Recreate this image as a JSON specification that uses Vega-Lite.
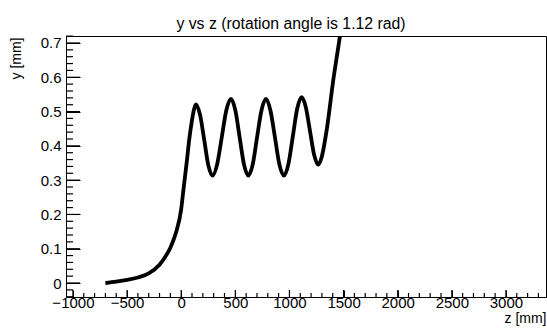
{
  "$schema": "https://vega.github.io/schema/vega-lite/v6.json",
  "width": 480,
  "height": 261,
  "autosize": "none",
  "padding": {"left": 66, "top": 36, "right": 1, "bottom": 37},
  "background": "white",
  "title": {
    "text": "y vs z (rotation angle is 1.12 rad)",
    "font": "Liberation Sans",
    "fontSize": 15.8,
    "fontWeight": "normal",
    "color": "black",
    "anchor": "middle",
    "frame": "group",
    "offset": 14,
    "dy": 11,
    "dx": -15
  },
  "config": {
    "view": {"stroke": "black", "strokeWidth": 1},
    "axis": {
      "zindex": 1,
      "domainColor": "black",
      "domainWidth": 1,
      "tickColor": "black",
      "tickWidth": 1,
      "labelFont": "Liberation Sans",
      "labelFontSize": 15,
      "labelColor": "black",
      "titleFont": "Liberation Sans",
      "titleFontSize": 14,
      "titleFontWeight": "normal",
      "titleColor": "black",
      "grid": false,
      "labelOverlap": false,
      "labelFlush": false,
      "labelBound": false
    }
  },
  "datasets": {
    "curve": [
      {"z": -700, "y": 0.000},
      {"z": -600, "y": 0.004},
      {"z": -500, "y": 0.009},
      {"z": -400, "y": 0.016},
      {"z": -300, "y": 0.028},
      {"z": -200, "y": 0.053},
      {"z": -150, "y": 0.075},
      {"z": -100, "y": 0.103},
      {"z": -50, "y": 0.145},
      {"z": 0, "y": 0.215},
      {"z": 20, "y": 0.270},
      {"z": 50, "y": 0.349},
      {"z": 75, "y": 0.420},
      {"z": 100, "y": 0.475},
      {"z": 120, "y": 0.508},
      {"z": 136, "y": 0.521},
      {"z": 174, "y": 0.491},
      {"z": 213, "y": 0.417},
      {"z": 251, "y": 0.343},
      {"z": 290, "y": 0.313},
      {"z": 332, "y": 0.346},
      {"z": 375, "y": 0.425},
      {"z": 417, "y": 0.504},
      {"z": 460, "y": 0.537},
      {"z": 500, "y": 0.504},
      {"z": 540, "y": 0.425},
      {"z": 580, "y": 0.346},
      {"z": 620, "y": 0.313},
      {"z": 661, "y": 0.346},
      {"z": 701, "y": 0.425},
      {"z": 742, "y": 0.504},
      {"z": 783, "y": 0.537},
      {"z": 824, "y": 0.504},
      {"z": 866, "y": 0.425},
      {"z": 907, "y": 0.346},
      {"z": 949, "y": 0.313},
      {"z": 990, "y": 0.346},
      {"z": 1031, "y": 0.427},
      {"z": 1072, "y": 0.509},
      {"z": 1113, "y": 0.542},
      {"z": 1151, "y": 0.513},
      {"z": 1190, "y": 0.443},
      {"z": 1228, "y": 0.374},
      {"z": 1266, "y": 0.345},
      {"z": 1300, "y": 0.370},
      {"z": 1344, "y": 0.446},
      {"z": 1405, "y": 0.592},
      {"z": 1466, "y": 0.720},
      {"z": 1500, "y": 0.800}
    ],
    "xticks": [
      {"z": -1000, "major": true}, {"z": -900, "major": false}, {"z": -800, "major": false}, {"z": -700, "major": false}, {"z": -600, "major": false},
      {"z": -500, "major": true}, {"z": -400, "major": false}, {"z": -300, "major": false}, {"z": -200, "major": false}, {"z": -100, "major": false},
      {"z": 0, "major": true}, {"z": 100, "major": false}, {"z": 200, "major": false}, {"z": 300, "major": false}, {"z": 400, "major": false},
      {"z": 500, "major": true}, {"z": 600, "major": false}, {"z": 700, "major": false}, {"z": 800, "major": false}, {"z": 900, "major": false},
      {"z": 1000, "major": true}, {"z": 1100, "major": false}, {"z": 1200, "major": false}, {"z": 1300, "major": false}, {"z": 1400, "major": false},
      {"z": 1500, "major": true}, {"z": 1600, "major": false}, {"z": 1700, "major": false}, {"z": 1800, "major": false}, {"z": 1900, "major": false},
      {"z": 2000, "major": true}, {"z": 2100, "major": false}, {"z": 2200, "major": false}, {"z": 2300, "major": false}, {"z": 2400, "major": false},
      {"z": 2500, "major": true}, {"z": 2600, "major": false}, {"z": 2700, "major": false}, {"z": 2800, "major": false}, {"z": 2900, "major": false},
      {"z": 3000, "major": true}, {"z": 3100, "major": false}, {"z": 3200, "major": false}, {"z": 3300, "major": false}
    ],
    "yticks": [
      {"y": -0.04, "major": false}, {"y": -0.02, "major": false},
      {"y": 0, "major": true}, {"y": 0.02, "major": false}, {"y": 0.04, "major": false}, {"y": 0.06, "major": false}, {"y": 0.08, "major": false},
      {"y": 0.1, "major": true}, {"y": 0.12, "major": false}, {"y": 0.14, "major": false}, {"y": 0.16, "major": false}, {"y": 0.18, "major": false},
      {"y": 0.2, "major": true}, {"y": 0.22, "major": false}, {"y": 0.24, "major": false}, {"y": 0.26, "major": false}, {"y": 0.28, "major": false},
      {"y": 0.3, "major": true}, {"y": 0.32, "major": false}, {"y": 0.34, "major": false}, {"y": 0.36, "major": false}, {"y": 0.38, "major": false},
      {"y": 0.4, "major": true}, {"y": 0.42, "major": false}, {"y": 0.44, "major": false}, {"y": 0.46, "major": false}, {"y": 0.48, "major": false},
      {"y": 0.5, "major": true}, {"y": 0.52, "major": false}, {"y": 0.54, "major": false}, {"y": 0.56, "major": false}, {"y": 0.58, "major": false},
      {"y": 0.6, "major": true}, {"y": 0.62, "major": false}, {"y": 0.64, "major": false}, {"y": 0.66, "major": false}, {"y": 0.68, "major": false},
      {"y": 0.7, "major": true}, {"y": 0.72, "major": false}
    ]
  },
  "layer": [
    {
      "data": {"name": "curve"},
      "mark": {"type": "line", "color": "black", "strokeWidth": 3.8, "interpolate": "monotone", "clip": true},
      "encoding": {
        "x": {
          "field": "z",
          "type": "quantitative",
          "scale": {"domain": [-1064, 3370], "nice": false, "zero": false},
          "axis": {
            "orient": "top",
            "offset": -261,
            "title": "z [mm]",
            "titleAnchor": "end",
            "titleAlign": "right",
            "titleBaseline": "alphabetic",
            "titleAngle": 0,
            "titleX": 480,
            "titleY": 25,
            "values": [-1000,-500,0,500,1000,1500,2000,2500,3000],
            "format": "d",
            "tickSize": 7,
            "labelBaseline": "top",
            "labelAlign": "center",
            "labelPadding": -5.5
          }
        },
        "y": {
          "field": "y",
          "type": "quantitative",
          "scale": {"domain": [-0.0408, 0.7204], "nice": false, "zero": false},
          "axis": {
            "orient": "right",
            "offset": -480,
            "title": "y [mm]",
            "titleAnchor": "end",
            "titleAlign": "right",
            "titleAngle": -90,
            "titleBaseline": "alphabetic",
            "titleX": -46,
            "titleY": 1,
            "values": [0,0.1,0.2,0.3,0.4,0.5,0.6,0.7],
            "labelExpr": "datum.value === 0 ? '0' : format(datum.value, '.1f')",
            "tickSize": 14,
            "labelAlign": "right",
            "labelBaseline": "middle",
            "labelPadding": -19
          }
        }
      }
    },
    {
      "data": {"name": "xticks"},
      "transform": [{"filter": "datum.major"}],
      "mark": {"type": "rule", "color": "black", "strokeWidth": 1.2},
      "encoding": {
        "x": {"field": "z", "type": "quantitative", "axis": null},
        "y": {"datum": -0.0408, "type": "quantitative", "axis": null},
        "y2": {"datum": -0.0204}
      }
    },
    {
      "data": {"name": "xticks"},
      "transform": [{"filter": "!datum.major"}],
      "mark": {"type": "rule", "color": "black", "strokeWidth": 1.2},
      "encoding": {
        "x": {"field": "z", "type": "quantitative", "axis": null},
        "y": {"datum": -0.0408, "type": "quantitative", "axis": null},
        "y2": {"datum": -0.0291}
      }
    },
    {
      "data": {"name": "yticks"},
      "transform": [{"filter": "datum.major"}],
      "mark": {"type": "rule", "color": "black", "strokeWidth": 1.2},
      "encoding": {
        "y": {"field": "y", "type": "quantitative", "axis": null},
        "x": {"datum": -1064, "type": "quantitative", "axis": null},
        "x2": {"datum": -935}
      }
    },
    {
      "data": {"name": "yticks"},
      "transform": [{"filter": "!datum.major"}],
      "mark": {"type": "rule", "color": "black", "strokeWidth": 1.2},
      "encoding": {
        "y": {"field": "y", "type": "quantitative", "axis": null},
        "x": {"datum": -1064, "type": "quantitative", "axis": null},
        "x2": {"datum": -999}
      }
    }
  ],
  "resolve": {"axis": {"x": "independent", "y": "independent"}}
}
